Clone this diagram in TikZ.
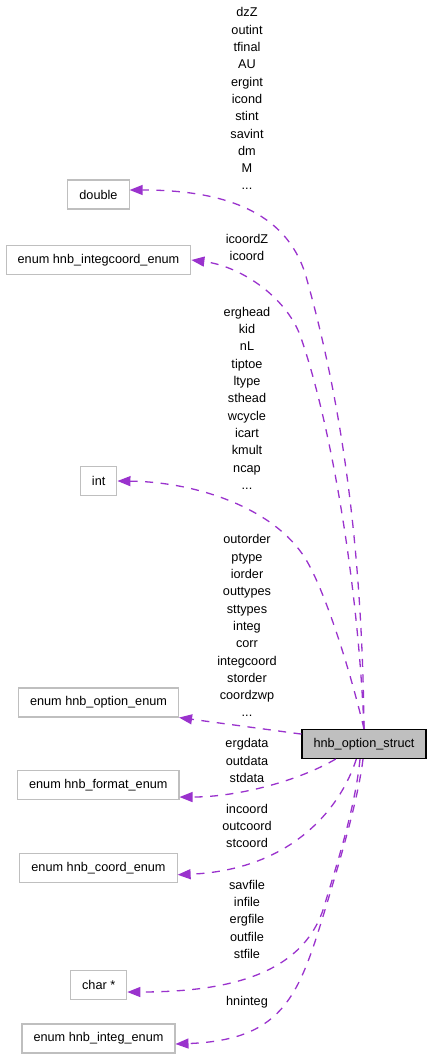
\documentclass[tikz,border=0pt]{standalone}
\usepackage{fontspec}
\setmainfont{Liberation Sans}
\usetikzlibrary{arrows.meta}
\definecolor{edgepurple}{HTML}{9A32CD}
\definecolor{boxgray}{HTML}{BFBFBF}

\begin{document}
\begin{tikzpicture}[x=1pt, y=-1pt,
  typebox/.style={draw=boxgray, line width=1.1pt, minimum height=29pt,
                  inner xsep=11.5pt, inner ysep=0pt,
                  font=\fontsize{12.7}{15}\selectfont},
  structbox/.style={typebox, draw=black, fill=boxgray},
  members/.style={align=center, inner sep=0pt,
                  font=\fontsize{12.7}{17.3}\selectfont},
  dep/.style={-{Triangle[length=13pt, width=10pt]}, edgepurple,
              line width=1.3pt, dash pattern=on 8pt off 7.5pt}
]
  \useasboundingbox (0,0) rectangle (432,1059);
  % Type boxes
  \node[typebox] (dbl) at (98.5,194.5) {double};
  \node[typebox] (igc) at (98.5,260) {enum hnb\_integcoord\_enum};
  \node[typebox] (int) at (98.7,481) {int};
  \node[typebox] (oe) at (98.5,702.5) {enum hnb\_option\_enum};
  \node[structbox] (s) at (364,744) {hnb\_option\_struct};
  \node[typebox] (fe) at (98.3,785) {enum hnb\_format\_enum};
  \node[typebox] (ce) at (98.5,867.7) {enum hnb\_coord\_enum};
  \node[typebox] (chr) at (98.7,985) {char *};
  \node[typebox] (ie) at (98.5,1038.5) {enum hnb\_integ\_enum};
  % Member labels
  \node[members] (l1) at (247,98.8) {dzZ\\outint\\tfinal\\AU\\ergint\\icond\\stint\\savint\\dm\\M\\...};
  \node[members] (l2) at (247,247.7) {icoordZ\\icoord};
  \node[members] (l3) at (247,398.2) {erghead\\kid\\nL\\tiptoe\\ltype\\sthead\\wcycle\\icart\\kmult\\ncap\\...};
  \node[members] (l4) at (247,625.8) {outorder\\ptype\\iorder\\outtypes\\sttypes\\integ\\corr\\integcoord\\storder\\coordzwp\\...};
  \node[members] (l5) at (247,760.7) {ergdata\\outdata\\stdata};
  \node[members] (l6) at (247,826) {incoord\\outcoord\\stcoord};
  \node[members] (l7) at (247,919.3) {savfile\\infile\\ergfile\\outfile\\stfile};
  \node[members] (l8) at (247,1002.3) {hninteg};
  % Dependencies
  \draw[dep] (s.north) .. controls (362,520) and (335,380) .. (307,280)
    .. controls (290,215) and (230,190) .. ([yshift=4.5pt]dbl.east);
  \draw[dep] (s.north) .. controls (358,580) and (330,420) .. (300,335)
    .. controls (285,296) and (240,266) .. (igc.east);
  \draw[dep] (s.north) .. controls (350,670) and (325,590) .. (305,558)
    .. controls (275,510) and (200,482) .. (int.east);
  \draw[dep] (s.171) -- (oe.south east);
  \draw[dep] (s.208) .. controls (300,780) and (240,797) .. ([yshift=3pt]fe.south east);
  \draw[dep] (s.243) .. controls (340,810) and (290,870) .. ([yshift=8pt]ce.south east);
  \draw[dep] ([xshift=-4pt]s.south) .. controls (355,810) and (335,870) .. (323,910)
    .. controls (301,974) and (229,992) .. ([yshift=-7pt]chr.east);
  \draw[dep] ([xshift=-1pt]s.south) .. controls (358,800) and (340,860) .. (328,900)
    .. controls (300,992) and (287,1040) .. ([yshift=-5.5pt]ie.east);
\end{tikzpicture}
\end{document}
